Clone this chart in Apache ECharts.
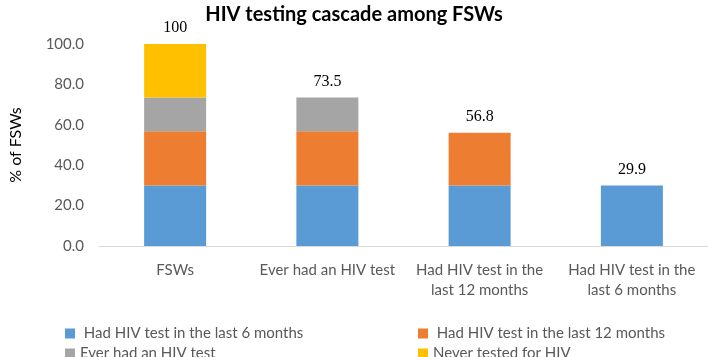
<!DOCTYPE html>
<html>
<head>
<meta charset="utf-8">
<script src="https://cdn.jsdelivr.net/npm/echarts@6/dist/echarts.min.js"></script>
<style>
html,body{margin:0;padding:0;background:#fff;}
#main{width:708px;height:357px;}
</style>
</head>
<body>
<div id="main"></div>
<script>
var categories = ['FSWs', 'Ever had an HIV test', 'Had HIV test in the\nlast 12 months', 'Had HIV test in the\nlast 6 months'];
var seriesNames = [' Had HIV test in the last 6 months', ' Had HIV test in the last 12 months', 'Ever had an HIV test', 'Never tested for HIV'];
var last6 = [29.9, 29.9, 29.9, 29.9];
var last12 = [26.9, 26.9, 26.2, 0];
var everTested = [16.7, 16.7, 0, 0];
var neverTested = [26.5, 0, 0, 0];
var totals = ['100', '73.5', '56.8', '29.9'];
var yTicks = [0, 20, 40, 60, 80, 100];
var colors = ['#5B9BD5', '#ED7D31', '#A5A5A5', '#FFC000'];

var stacks = [last6, last12, everTested, neverTested];
var topIdx = categories.map(function (c, i) {
  var t = 0;
  stacks.forEach(function (s, k) { if (s[i] > 0) t = k; });
  return t;
});

var font = 'Lato, "Open Sans", sans-serif';
var series = stacks.map(function (vals, k) {
  return {
    name: seriesNames[k],
    type: 'bar',
    stack: 'total',
    barWidth: 62,
    itemStyle: { color: colors[k] },
    emphasis: { disabled: true },
    data: vals.map(function (v, i) {
      return {
        value: v,
        label: {
          show: topIdx[i] === k,
          position: 'top',
          distance: 8,
          formatter: function () { return totals[i]; },
          fontFamily: '"Liberation Serif", "Times New Roman", serif',
          fontSize: 16,
          color: '#000'
        }
      };
    })
  };
});

var legendPos = [[65, 326], [418, 326], [65, 346], [418, 346]];
var legends = seriesNames.map(function (n, k) {
  return {
    data: [n],
    left: legendPos[k][0],
    top: legendPos[k][1],
    padding: 0,
    itemWidth: 10,
    itemHeight: 10,
    icon: 'rect',
    selectedMode: false,
    textStyle: { fontFamily: font, fontSize: 15, color: '#595959' }
  };
});

var chart = echarts.init(document.getElementById('main'));
chart.setOption({
  animation: false,
  title: {
    text: 'HIV testing cascade among FSWs',
    left: 'center',
    top: 0,
    textStyle: { fontFamily: font, fontSize: 20, fontWeight: 'bold', color: '#000' }
  },
  legend: legends,
  grid: { left: 92, right: 0, top: 44, bottom: 111, containLabel: false },
  xAxis: {
    type: 'category',
    data: categories,
    axisLine: { lineStyle: { color: '#D9D9D9', width: 1 } },
    axisTick: { show: false },
    axisLabel: { fontFamily: font, fontSize: 15, color: '#595959', margin: 14, lineHeight: 20, interval: 0 }
  },
  yAxis: {
    type: 'value',
    min: yTicks[0],
    max: yTicks[yTicks.length - 1],
    interval: 20,
    name: '% of FSWs',
    nameLocation: 'middle',
    nameGap: 75,
    nameTextStyle: { fontFamily: font, fontSize: 16, color: '#000' },
    axisLine: { show: false },
    axisTick: { show: false },
    splitLine: { show: false },
    axisLabel: {
      fontFamily: font, fontSize: 15, color: '#595959', margin: 15,
      formatter: function (v) { return v.toFixed(1); }
    }
  },
  series: series
});
</script>
</body>
</html>
